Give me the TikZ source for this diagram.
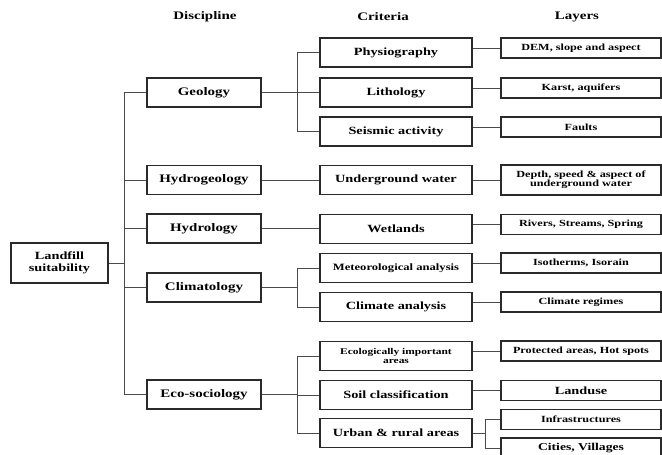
\documentclass[tikz,border=0pt]{standalone}
\usepackage{fontspec}
\newfontfamily\boxfont[FakeStretch=1.3]{Liberation Serif}
\definecolor{boxline}{HTML}{2A2A2A}
\definecolor{wire}{HTML}{4A4A4A}
\tikzset{
  head/.style={font=\boxfont\bfseries\fontsize{11.5}{12}\selectfont},
  disc/.style={draw=boxline, line width=1.1pt, minimum width=114pt, minimum height=29pt,
    inner sep=1pt, font=\boxfont\bfseries\fontsize{11.5}{12}\selectfont},
  crit/.style={draw=boxline, line width=1.1pt, minimum width=152pt, minimum height=29pt,
    inner sep=1pt, align=center, font=\boxfont\bfseries\fontsize{11}{11}\selectfont},
  layer/.style={draw=boxline, line width=1.1pt, minimum width=160pt, minimum height=20pt,
    inner sep=1pt, align=center, font=\boxfont\bfseries\fontsize{9.4}{9}\selectfont},
  wires/.style={draw=wire, line width=0.8pt}
}
\begin{document}
\begin{tikzpicture}[x=1pt,y=-1pt]
  \useasboundingbox (0,0) rectangle (662,455);
  % headers
  \node[head] (hd) at (205,17) {Discipline};
  \node[head] (hc) at (383,17) {Criteria};
  \node[head] (hl) at (577,17) {Layers};
  % root
  \node[disc, minimum width=97pt, minimum height=40pt, align=center,
    font=\boxfont\bfseries\fontsize{11}{11.5}\selectfont] (land) at (59.5,263)
    {Landfill\\suitability};
  % discipline
  \node[disc] (geo) at (204,92.5) {Geology};
  \node[disc] (hgeo) at (204,180) {Hydrogeology};
  \node[disc] (hyd) at (204,228.5) {Hydrology};
  \node[disc] (clim) at (204,287.5) {Climatology};
  \node[disc] (eco) at (204,394.5) {Eco-sociology};
  % criteria
  \node[crit] (phys) at (396,52.5) {Physiography};
  \node[crit] (lith) at (396,92.5) {Lithology};
  \node[crit] (seis) at (396,131.5) {Seismic activity};
  \node[crit] (uw) at (396,180) {Underground water};
  \node[crit] (wet) at (396,229) {Wetlands};
  \node[crit, font=\boxfont\bfseries\fontsize{9.7}{10}\selectfont] (met) at (396,268) {Meteorological analysis};
  \node[crit] (cana) at (396,307) {Climate analysis};
  \node[crit, font=\boxfont\bfseries\fontsize{8.8}{8.5}\selectfont] (ecol) at (396,356) {Ecologically important\\areas};
  \node[crit] (soil) at (396,395) {Soil classification};
  \node[crit] (urb) at (396,433) {Urban \& rural areas};
  % layers
  \node[layer] (dem) at (581,48) {DEM, slope and aspect};
  \node[layer] (karst) at (581,88) {Karst, aquifers};
  \node[layer] (fault) at (581,127) {Faults};
  \node[layer, minimum height=30pt, font=\boxfont\bfseries\fontsize{9.4}{8.8}\selectfont] (depth) at (581,180)
    {Depth, speed \& aspect of\\underground water};
  \node[layer] (river) at (581,224.5) {Rivers, Streams, Spring};
  \node[layer] (iso) at (581,263) {Isotherms, Isorain};
  \node[layer] (creg) at (581,302) {Climate regimes};
  \node[layer] (prot) at (581,351) {Protected areas, Hot spots};
  \node[layer, font=\boxfont\bfseries\fontsize{11}{11}\selectfont] (landuse) at (581,390.5) {Landuse};
  \node[layer] (infra) at (581,419.5) {Infrastructures};
  \node[layer, font=\boxfont\bfseries\fontsize{10.5}{11}\selectfont] (city) at (581,448) {Cities, Villages};
  % forks
  \coordinate (spine) at (124,0);
  \coordinate (cfork) at (297,0);
  \coordinate (ufork) at (485,0);
  \begin{scope}[wires]
    \draw (land.east) -- (spine |- land.east);
    \draw (spine |- geo.west) -- (spine |- eco.west);
    \foreach \d in {geo,hgeo,hyd,clim,eco}
      \draw (spine |- \d.west) -- (\d.west);
    \draw (geo.east) -- (cfork |- geo.east);
    \draw (cfork |- phys.west) -- (cfork |- seis.west);
    \foreach \c in {phys,lith,seis}
      \draw (cfork |- \c.west) -- (\c.west);
    \draw (hgeo.east) -- (uw.west);
    \draw (hyd.east) -- (hyd.east -| wet.west);
    \draw (clim.east) -- (cfork |- clim.east);
    \draw (cfork |- met.west) -- (cfork |- cana.west);
    \foreach \c in {met,cana}
      \draw (cfork |- \c.west) -- (\c.west);
    \draw (eco.east) -- (cfork |- eco.east);
    \draw (cfork |- ecol.west) -- (cfork |- urb.west);
    \foreach \c in {ecol,soil,urb}
      \draw (cfork |- \c.west) -- (\c.west);
    \foreach \c/\l in {phys/dem,lith/karst,seis/fault,uw/depth,wet/river,
                       met/iso,cana/creg,ecol/prot,soil/landuse}
      \draw (\c.east |- \l.west) -- (\l.west);
    \draw (urb.east) -- (ufork |- urb.east);
    \draw (ufork |- infra.west) -- (ufork |- city.west);
    \foreach \l in {infra,city}
      \draw (ufork |- \l.west) -- (\l.west);
  \end{scope}
\end{tikzpicture}
\end{document}
